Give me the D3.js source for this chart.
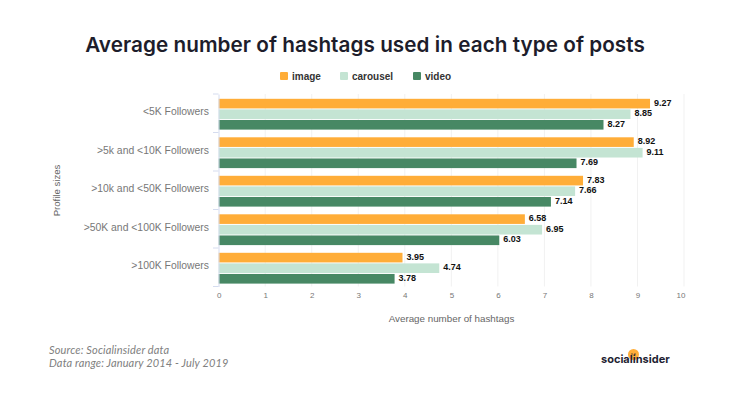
<!DOCTYPE html>
<html>
<head>
<meta charset="utf-8">
<script src="https://cdn.jsdelivr.net/npm/d3@7"></script>
<style>
  html, body { margin: 0; padding: 0; background: #fff; }
  text { font-family: "Liberation Sans", Arial, sans-serif; }
  .title { font-family: Inter, sans-serif; font-weight: 600; font-size: 20.7px; letter-spacing: 0.05px; fill: #1d1d2b; }
  .note { font-family: Lato, sans-serif; font-style: italic; font-size: 11px; letter-spacing: 0.15px; fill: #808080; }
  .logo { font-family: Inter, sans-serif; font-weight: 700; font-size: 11px; fill: #1f1f33; }
</style>
</head>
<body>
<svg id="chart" width="730" height="400"></svg>
<script>
// Average hashtags per profile size
const data = [
  { group: "<5K Followers", image: 9.27, carousel: 8.85, video: 8.27 },
  { group: ">5k and <10K Followers", image: 8.92, carousel: 9.11, video: 7.69 },
  { group: ">10k and <50K Followers", image: 7.83, carousel: 7.66, video: 7.14 },
  { group: ">50K and <100K Followers", image: 6.58, carousel: 6.95, video: 6.03 },
  { group: ">100K Followers", image: 3.95, carousel: 4.74, video: 3.78 }
];
const keys = ["image", "carousel", "video"];
const colors = { image: "#ffad38", carousel: "#c4e4d3", video: "#478864" };

const svg = d3.select("#chart");

const xScale = d3.scaleLinear().domain([0, 10]).range([218.7, 684]);
const yScale = d3.scaleBand().domain(data.map(d => d.group)).range([94, 286.5]);
const inner = d3.scaleBand().domain(keys).range([4.8, 35.6]).paddingInner(0.09);

// Title
svg.append("text")
  .attr("class", "title")
  .attr("x", 365)
  .attr("y", 52)
  .attr("text-anchor", "middle")
  .text("Average number of hashtags used in each type of posts");

// Grid lines
svg.append("g")
  .selectAll("line")
  .data(xScale.ticks(10).slice(1))
  .enter()
  .append("line")
  .attr("x1", d => xScale(d))
  .attr("x2", d => xScale(d))
  .attr("y1", 94)
  .attr("y2", 286.5)
  .attr("stroke", "#f1f1f1")
  .attr("stroke-width", 1);

// Bars
const groups = svg.append("g")
  .selectAll("g")
  .data(data)
  .enter()
  .append("g")
  .attr("transform", d => "translate(0," + yScale(d.group) + ")");

groups.selectAll("rect")
  .data(d => keys.map(k => ({ key: k, value: d[k] })))
  .enter()
  .append("rect")
  .attr("x", xScale(0))
  .attr("y", d => inner(d.key))
  .attr("width", d => xScale(d.value) - xScale(0))
  .attr("height", inner.bandwidth())
  .attr("fill", d => colors[d.key]);

groups.selectAll("text")
  .data(d => keys.map(k => ({ key: k, value: d[k] })))
  .enter()
  .append("text")
  .attr("x", d => xScale(d.value) + 4)
  .attr("y", d => inner(d.key) + inner.bandwidth() / 2 + 2.2)
  .attr("font-size", 9)
  .attr("font-weight", "bold")
  .attr("fill", "#111")
  .text(d => d.value.toFixed(2));

// X axis
const xAxis = svg.append("g")
  .attr("transform", "translate(0,286.5)")
  .call(d3.axisBottom(xScale).ticks(10).tickSize(0).tickPadding(6));
xAxis.select(".domain").remove();
xAxis.selectAll("text").attr("font-size", 8).attr("fill", "#777").style("font-family", "Liberation Sans");
xAxis.selectAll(".tick").filter(d => d === 10).select("text").attr("dx", -3.5);

// Y axis
const yAxis = svg.append("g")
  .attr("transform", "translate(218.5,0)")
  .call(d3.axisLeft(yScale).tickSize(0).tickPadding(9.5));
yAxis.select(".domain").attr("stroke", "#d5dcef");
yAxis.selectAll("text")
  .attr("font-size", 10.4)
  .attr("dy", "0.2em")
  .attr("fill", "#777")
  .style("font-family", "Liberation Sans");
svg.append("g")
  .selectAll("line")
  .data(data.map(d => yScale(d.group)).concat([286.5]))
  .enter()
  .append("line")
  .attr("x1", 213)
  .attr("x2", 218.5)
  .attr("y1", d => d)
  .attr("y2", d => d)
  .attr("stroke", "#d5dcef");

// Axis titles
svg.append("text")
  .attr("x", 451.5)
  .attr("y", 322)
  .attr("text-anchor", "middle")
  .attr("font-size", 9.8)
  .attr("fill", "#666")
  .text("Average number of hashtags");

svg.append("text")
  .attr("transform", "translate(59.5,190.5) rotate(-90)")
  .attr("text-anchor", "middle")
  .attr("font-size", 9.6)
  .attr("fill", "#666")
  .text("Profile sizes");

// Legend
const legendX = { image: 280, carousel: 340, video: 413 };
const legend = svg.append("g")
  .selectAll("g")
  .data(keys)
  .enter()
  .append("g")
  .attr("transform", d => "translate(" + legendX[d] + ",72)");

legend.append("rect")
  .attr("width", 8)
  .attr("height", 8)
  .attr("rx", 1)
  .attr("fill", d => colors[d]);

legend.append("text")
  .attr("x", 12)
  .attr("y", 7.6)
  .attr("font-size", 10)
  .attr("font-weight", "bold")
  .attr("fill", "#333")
  .text(d => d);

// Source note
svg.append("text").attr("class", "note").attr("x", 49).attr("y", 354).text("Source: Socialinsider data");
svg.append("text").attr("class", "note").attr("x", 49).attr("y", 367).text("Data range: January 2014 - July 2019");

// Logo
svg.append("circle").attr("cx", 633.5).attr("cy", 354.5).attr("r", 5.5).attr("fill", "#ffad38");
svg.append("circle").attr("cx", 632).attr("cy", 354).attr("r", 0.7).attr("fill", "#333");
svg.append("circle").attr("cx", 635).attr("cy", 354).attr("r", 0.7).attr("fill", "#333");
svg.append("text").attr("class", "logo").attr("x", 601).attr("y", 363).text("socialinsider");
</script>
</body>
</html>
